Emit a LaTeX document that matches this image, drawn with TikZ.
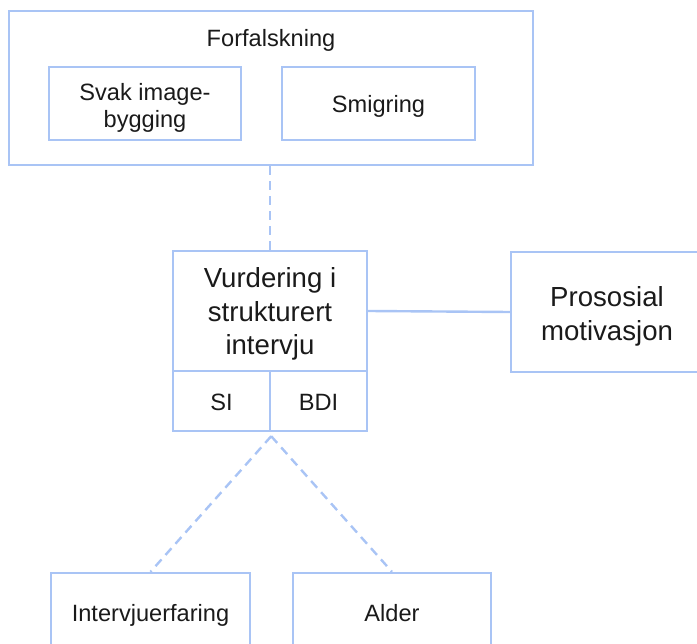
\documentclass[tikz,border=0pt]{standalone}
\usepackage{fontspec}
\setmainfont{Liberation Sans}
\definecolor{edge}{RGB}{169,196,245}
\definecolor{ink}{RGB}{26,26,26}
\tikzset{
  box/.style={draw=edge, line width=2.4pt, rectangle, inner sep=0pt},
  txt/.style={inner sep=0pt, align=center, text=ink},
  small/.style={txt, font=\fontsize{23.6}{27.5}\selectfont},
  one/.style={small, text height=16.9pt, text depth=0pt},
  big/.style={txt, font=\fontsize{27.6}{33.8}\selectfont},
  conn/.style={draw=edge, line width=2.4pt},
  dconn/.style={conn, dash pattern=on 9pt off 6pt},
}
\begin{document}
\begin{tikzpicture}[x=1pt,y=-1pt]
\useasboundingbox (0,0) rectangle (697,644);
% Forfalskning group
\node[box, minimum width=524pt, minimum height=154pt] (outer) at (271,88) {};
\node[one] (ftitle) at (271,38.5) {Forfalskning};
\node[box, minimum width=192pt, minimum height=73pt] (svak) at (145,103.5) {};
\node[small] (svakt) at ([yshift=-4.5pt]svak.center) {Svak image-\\bygging};
\node[box, minimum width=193pt, minimum height=73pt] (smig) at (378.5,103.5) {};
\node[one] (smigt) at ([yshift=-0.8pt]smig.center) {Smigring};
% Vurdering
\node[box, minimum width=194pt, minimum height=120pt] (vurd) at (270,311) {};
\node[big] (vurdt) at ([yshift=-3pt]vurd.center) {Vurdering i\\strukturert\\intervju};
\node[box, minimum width=97pt, minimum height=60pt] (si) at (221.5,401) {};
\node[one] (sit) at ([yshift=-1.5pt]si.center) {SI};
\node[box, minimum width=97pt, minimum height=60pt] (bdi) at (318.5,401) {};
\node[one] (bdit) at ([yshift=-1.5pt]bdi.center) {BDI};
% Prososial
\node[box, minimum width=192pt, minimum height=120pt] (pros) at (607,312) {};
\node[big] (prost) at ([yshift=-4pt]pros.center) {Prososial\\motivasjon};
% bottom
\node[box, minimum width=199pt, minimum height=78pt] (interv) at (150.5,612) {};
\node[one] (intervt) at ([yshift=-1pt]interv.center) {Intervjuerfaring};
\node[box, minimum width=198pt, minimum height=78pt] (alder) at (392,612) {};
\node[one] (aldert) at ([yshift=-1pt]alder.center) {Alder};
% connectors
\draw[dconn] (outer.south -| vurd.north) -- (vurd.north);
\draw[conn] (vurd.east) -- (pros.west);
\coordinate (split) at (si.south east);
\draw[dconn] ([yshift=-4pt]split) -- (interv.north);
\draw[dconn] ([yshift=-4pt]split) -- (alder.north);
\end{tikzpicture}
\end{document}
